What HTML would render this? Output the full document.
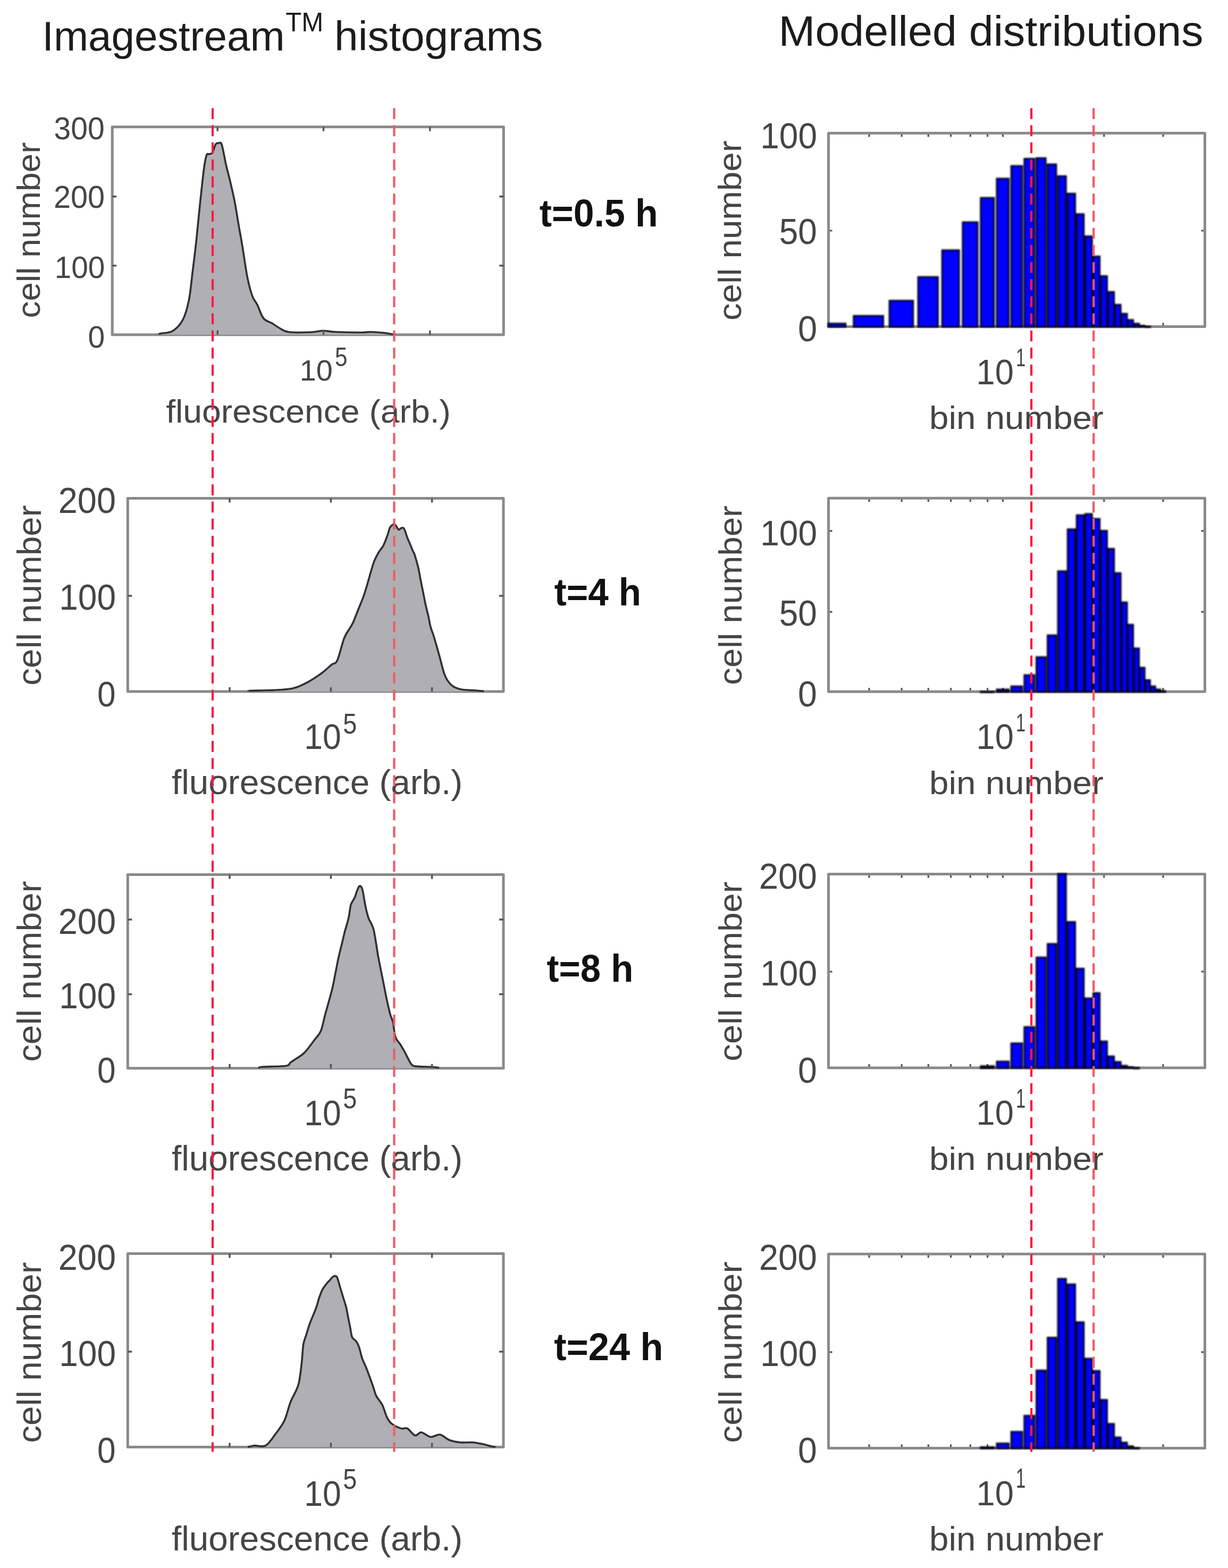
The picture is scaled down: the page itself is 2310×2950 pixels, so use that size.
<!DOCTYPE html>
<html><head><meta charset="utf-8"><title>Imagestream histograms vs modelled distributions</title>
<style>html,body{margin:0;padding:0;background:#fff;}svg{display:block;}
text{font-family:"Liberation Sans",Arial,sans-serif;}</style></head>
<body>
<svg width="2310" height="2950" viewBox="0 0 2310 2950">
<defs><filter id="bl" x="-2%" y="-2%" width="104%" height="104%"><feGaussianBlur stdDeviation="1.4"/></filter></defs>
<rect width="2310" height="2950" fill="#fff"/>
<text x="79.2" y="95.2" font-size="77.54" textLength="456.4" lengthAdjust="spacingAndGlyphs" fill="#1c1c1c">Imagestream</text>
<text x="537.2" y="58.9" font-size="50.58" textLength="71.1" lengthAdjust="spacingAndGlyphs" fill="#1c1c1c">TM</text>
<text x="629.1" y="94.7" font-size="78.07" textLength="392.4" lengthAdjust="spacingAndGlyphs" fill="#1c1c1c">histograms</text>
<text x="1464.6" y="85.8" font-size="80.14" textLength="799.0" lengthAdjust="spacingAndGlyphs" fill="#1c1c1c">Modelled distributions</text>
<text x="1014.8" y="425.6" font-size="71.59" textLength="222.9" lengthAdjust="spacingAndGlyphs" fill="#111" font-weight="bold">t=0.5 h</text>
<text x="1042.7" y="1138.6" font-size="72.97" textLength="163.4" lengthAdjust="spacingAndGlyphs" fill="#111" font-weight="bold">t=4 h</text>
<text x="1028.6" y="1846.5" font-size="72.83" textLength="162.8" lengthAdjust="spacingAndGlyphs" fill="#111" font-weight="bold">t=8 h</text>
<text x="1042.3" y="2559.0" font-size="72.83" textLength="205.2" lengthAdjust="spacingAndGlyphs" fill="#111" font-weight="bold">t=24 h</text>
<rect x="211.2" y="238.8" width="736.1" height="391.0" fill="none" stroke="#8a8a8a" stroke-width="5" stroke-linejoin="round"/>
<path d="M300.0,629.3 C300.2,629.0 297.3,628.6 301.4,627.5 C305.5,626.4 317.8,626.9 324.8,622.7 C331.8,618.5 338.5,611.8 343.6,602.2 C348.7,592.6 352.2,580.2 355.3,565.0 C358.4,549.8 360.0,529.8 362.3,511.0 C364.6,492.2 367.0,474.0 369.3,452.5 C371.6,431.0 374.0,404.2 376.4,382.0 C378.8,359.8 381.4,334.0 383.4,319.0 C385.4,304.0 386.7,296.8 388.5,292.0 C390.3,287.2 392.1,290.8 394.0,290.0 C395.9,289.2 397.9,290.1 399.8,287.0 C401.7,283.9 403.7,274.5 405.6,271.5 C407.6,268.5 409.6,268.8 411.5,269.0 C413.4,269.2 415.0,265.4 417.3,272.5 C419.6,279.6 422.9,300.3 425.5,311.5 C428.1,322.7 429.9,327.8 432.6,339.5 C435.3,351.2 439.2,367.5 441.9,381.5 C444.6,395.5 446.6,410.0 449.0,423.7 C451.4,437.4 453.3,447.1 456.0,463.5 C458.7,479.9 462.3,506.4 465.4,522.0 C468.5,537.6 471.6,548.4 474.7,557.0 C477.8,565.6 480.6,566.5 484.1,573.5 C487.6,580.5 491.1,593.2 495.8,599.0 C500.5,604.8 507.1,605.4 512.2,608.5 C517.3,611.6 521.1,614.8 526.2,617.5 C531.3,620.2 532.9,623.2 542.6,624.5 C552.3,625.8 573.5,625.4 584.4,625.0 C595.3,624.6 600.1,622.3 607.9,622.2 C615.7,622.1 619.3,624.0 631.3,624.5 C643.3,625.0 669.0,625.5 680.0,625.5 C691.0,625.5 690.3,624.4 697.0,624.5 C703.7,624.6 713.7,625.4 720.0,626.0 C726.3,626.6 731.2,627.7 735.0,628.2 C738.8,628.8 741.7,629.1 743.0,629.3 L743.0,629.8 L300.0,629.8 Z" fill="#b0afb4" stroke="none"/>
<path d="M300.0,629.3 C300.2,629.0 297.3,628.6 301.4,627.5 C305.5,626.4 317.8,626.9 324.8,622.7 C331.8,618.5 338.5,611.8 343.6,602.2 C348.7,592.6 352.2,580.2 355.3,565.0 C358.4,549.8 360.0,529.8 362.3,511.0 C364.6,492.2 367.0,474.0 369.3,452.5 C371.6,431.0 374.0,404.2 376.4,382.0 C378.8,359.8 381.4,334.0 383.4,319.0 C385.4,304.0 386.7,296.8 388.5,292.0 C390.3,287.2 392.1,290.8 394.0,290.0 C395.9,289.2 397.9,290.1 399.8,287.0 C401.7,283.9 403.7,274.5 405.6,271.5 C407.6,268.5 409.6,268.8 411.5,269.0 C413.4,269.2 415.0,265.4 417.3,272.5 C419.6,279.6 422.9,300.3 425.5,311.5 C428.1,322.7 429.9,327.8 432.6,339.5 C435.3,351.2 439.2,367.5 441.9,381.5 C444.6,395.5 446.6,410.0 449.0,423.7 C451.4,437.4 453.3,447.1 456.0,463.5 C458.7,479.9 462.3,506.4 465.4,522.0 C468.5,537.6 471.6,548.4 474.7,557.0 C477.8,565.6 480.6,566.5 484.1,573.5 C487.6,580.5 491.1,593.2 495.8,599.0 C500.5,604.8 507.1,605.4 512.2,608.5 C517.3,611.6 521.1,614.8 526.2,617.5 C531.3,620.2 532.9,623.2 542.6,624.5 C552.3,625.8 573.5,625.4 584.4,625.0 C595.3,624.6 600.1,622.3 607.9,622.2 C615.7,622.1 619.3,624.0 631.3,624.5 C643.3,625.0 669.0,625.5 680.0,625.5 C691.0,625.5 690.3,624.4 697.0,624.5 C703.7,624.6 713.7,625.4 720.0,626.0 C726.3,626.6 731.2,627.7 735.0,628.2 C738.8,628.8 741.7,629.1 743.0,629.3" fill="none" stroke="#303030" stroke-width="3.6" stroke-linejoin="round"/>
<path d="M409.2,238.8v8 M409.2,629.8v-8 M608.5,238.8v8 M608.5,629.8v-8 M808.8,238.8v8 M808.8,629.8v-8 M211.2,499.7h8 M947.3,499.7h-8 M211.2,369.7h8 M947.3,369.7h-8 " stroke="#555" stroke-width="3.5" fill="none"/>
<text x="101.5" y="262.4" font-size="59.00" textLength="95.1" lengthAdjust="spacingAndGlyphs" fill="#454545">300</text>
<text x="100.9" y="391.2" font-size="59.86" textLength="96.1" lengthAdjust="spacingAndGlyphs" fill="#454545">200</text>
<text x="102.7" y="522.9" font-size="57.57" textLength="94.6" lengthAdjust="spacingAndGlyphs" fill="#454545">100</text>
<text x="165.5" y="653.5" font-size="58.29" textLength="31.7" lengthAdjust="spacingAndGlyphs" fill="#454545">0</text>
<text x="563.7" y="716.0" font-size="56.00" textLength="62.0" lengthAdjust="spacingAndGlyphs" fill="#454545">10</text>
<text x="629.9" y="689.2" font-size="49.28" textLength="23.5" lengthAdjust="spacingAndGlyphs" fill="#454545">5</text>
<text x="312.2" y="795.0" font-size="61.79" textLength="535.8" lengthAdjust="spacingAndGlyphs" fill="#454545">fluorescence (arb.)</text>
<text x="75.2" y="598.6" font-size="60.97" textLength="331.1" lengthAdjust="spacingAndGlyphs" fill="#454545" transform="rotate(-90 75.2 598.6)">cell number</text>
<rect x="240.3" y="937.4" width="706.7" height="363.5" fill="none" stroke="#8a8a8a" stroke-width="5" stroke-linejoin="round"/>
<path d="M468.0,1300.4 C468.3,1300.2 464.7,1299.8 470.0,1299.5 C475.3,1299.2 490.6,1299.1 500.0,1298.8 C509.4,1298.5 517.5,1298.5 526.3,1297.8 C535.1,1297.1 543.9,1296.9 552.7,1294.5 C561.5,1292.1 570.2,1288.0 579.0,1283.3 C587.8,1278.6 597.9,1271.7 605.4,1266.2 C612.9,1260.7 619.0,1254.4 623.8,1250.4 C628.6,1246.4 630.4,1250.8 634.4,1242.4 C638.4,1234.1 643.5,1210.4 647.5,1200.3 C651.5,1190.2 655.2,1186.9 658.1,1181.8 C661.0,1176.7 662.1,1175.8 664.7,1169.9 C667.4,1164.0 670.9,1154.3 674.0,1146.5 C677.1,1138.7 680.6,1130.8 683.4,1123.0 C686.2,1115.2 688.5,1107.4 690.9,1099.6 C693.2,1091.8 695.3,1083.5 697.5,1076.2 C699.7,1068.9 701.4,1062.0 704.0,1055.6 C706.6,1049.2 710.3,1042.6 713.0,1038.0 C715.7,1033.4 718.2,1031.5 720.3,1027.9 C722.4,1024.3 723.9,1020.1 725.5,1016.2 C727.1,1012.3 728.4,1008.4 729.7,1004.5 C731.0,1000.6 732.1,995.5 733.4,992.8 C734.7,990.0 736.1,989.1 737.5,988.0 C738.9,986.9 740.5,985.9 741.8,986.2 C743.1,986.5 744.2,988.3 745.5,990.0 C746.8,991.7 748.4,995.8 749.8,996.5 C751.2,997.2 752.6,994.6 754.0,994.0 C755.4,993.4 757.0,992.2 758.2,992.8 C759.5,993.4 760.2,994.4 761.5,997.5 C762.8,1000.6 764.4,1006.8 766.2,1011.5 C768.0,1016.2 770.5,1021.3 772.3,1025.6 C774.1,1029.9 775.7,1034.3 777.0,1037.3 C778.3,1040.3 778.3,1038.5 779.9,1043.4 C781.5,1048.3 784.6,1059.0 786.5,1066.8 C788.4,1074.6 789.6,1082.5 791.1,1090.3 C792.6,1098.1 794.2,1105.9 795.8,1113.7 C797.4,1121.5 798.8,1129.3 800.5,1137.1 C802.2,1144.9 804.5,1153.5 806.1,1160.5 C807.7,1167.5 808.2,1173.1 809.9,1179.3 C811.6,1185.5 813.4,1188.5 816.2,1197.7 C819.0,1206.9 823.2,1222.2 826.7,1234.5 C830.2,1246.8 833.2,1262.2 837.2,1271.4 C841.2,1280.6 845.1,1285.6 850.4,1289.9 C855.7,1294.2 861.3,1295.8 868.8,1297.3 C876.3,1298.8 888.3,1298.5 895.2,1299.0 C902.1,1299.5 907.5,1300.2 910.0,1300.4 L910.0,1300.9 L468.0,1300.9 Z" fill="#b0afb4" stroke="none"/>
<path d="M468.0,1300.4 C468.3,1300.2 464.7,1299.8 470.0,1299.5 C475.3,1299.2 490.6,1299.1 500.0,1298.8 C509.4,1298.5 517.5,1298.5 526.3,1297.8 C535.1,1297.1 543.9,1296.9 552.7,1294.5 C561.5,1292.1 570.2,1288.0 579.0,1283.3 C587.8,1278.6 597.9,1271.7 605.4,1266.2 C612.9,1260.7 619.0,1254.4 623.8,1250.4 C628.6,1246.4 630.4,1250.8 634.4,1242.4 C638.4,1234.1 643.5,1210.4 647.5,1200.3 C651.5,1190.2 655.2,1186.9 658.1,1181.8 C661.0,1176.7 662.1,1175.8 664.7,1169.9 C667.4,1164.0 670.9,1154.3 674.0,1146.5 C677.1,1138.7 680.6,1130.8 683.4,1123.0 C686.2,1115.2 688.5,1107.4 690.9,1099.6 C693.2,1091.8 695.3,1083.5 697.5,1076.2 C699.7,1068.9 701.4,1062.0 704.0,1055.6 C706.6,1049.2 710.3,1042.6 713.0,1038.0 C715.7,1033.4 718.2,1031.5 720.3,1027.9 C722.4,1024.3 723.9,1020.1 725.5,1016.2 C727.1,1012.3 728.4,1008.4 729.7,1004.5 C731.0,1000.6 732.1,995.5 733.4,992.8 C734.7,990.0 736.1,989.1 737.5,988.0 C738.9,986.9 740.5,985.9 741.8,986.2 C743.1,986.5 744.2,988.3 745.5,990.0 C746.8,991.7 748.4,995.8 749.8,996.5 C751.2,997.2 752.6,994.6 754.0,994.0 C755.4,993.4 757.0,992.2 758.2,992.8 C759.5,993.4 760.2,994.4 761.5,997.5 C762.8,1000.6 764.4,1006.8 766.2,1011.5 C768.0,1016.2 770.5,1021.3 772.3,1025.6 C774.1,1029.9 775.7,1034.3 777.0,1037.3 C778.3,1040.3 778.3,1038.5 779.9,1043.4 C781.5,1048.3 784.6,1059.0 786.5,1066.8 C788.4,1074.6 789.6,1082.5 791.1,1090.3 C792.6,1098.1 794.2,1105.9 795.8,1113.7 C797.4,1121.5 798.8,1129.3 800.5,1137.1 C802.2,1144.9 804.5,1153.5 806.1,1160.5 C807.7,1167.5 808.2,1173.1 809.9,1179.3 C811.6,1185.5 813.4,1188.5 816.2,1197.7 C819.0,1206.9 823.2,1222.2 826.7,1234.5 C830.2,1246.8 833.2,1262.2 837.2,1271.4 C841.2,1280.6 845.1,1285.6 850.4,1289.9 C855.7,1294.2 861.3,1295.8 868.8,1297.3 C876.3,1298.8 888.3,1298.5 895.2,1299.0 C902.1,1299.5 907.5,1300.2 910.0,1300.4" fill="none" stroke="#303030" stroke-width="3.6" stroke-linejoin="round"/>
<path d="M432.0,937.4v8 M432.0,1300.9v-8 M622.4,937.4v8 M622.4,1300.9v-8 M812.6,937.4v8 M812.6,1300.9v-8 M240.3,1121.0h8 M947.0,1121.0h-8 " stroke="#555" stroke-width="3.5" fill="none"/>
<text x="109.8" y="964.8" font-size="67.86" textLength="108.2" lengthAdjust="spacingAndGlyphs" fill="#454545">200</text>
<text x="111.2" y="1147.3" font-size="67.71" textLength="106.8" lengthAdjust="spacingAndGlyphs" fill="#454545">100</text>
<text x="183.1" y="1328.9" font-size="66.29" textLength="34.6" lengthAdjust="spacingAndGlyphs" fill="#454545">0</text>
<text x="572.2" y="1409.4" font-size="67.43" textLength="69.6" lengthAdjust="spacingAndGlyphs" fill="#454545">10</text>
<text x="645.3" y="1379.6" font-size="52.75" textLength="26.0" lengthAdjust="spacingAndGlyphs" fill="#454545">5</text>
<text x="323.0" y="1493.7" font-size="64.97" textLength="547.2" lengthAdjust="spacingAndGlyphs" fill="#454545">fluorescence (arb.)</text>
<text x="76.7" y="1289.7" font-size="62.07" textLength="339.4" lengthAdjust="spacingAndGlyphs" fill="#454545" transform="rotate(-90 76.7 1289.7)">cell number</text>
<rect x="240.3" y="1645.5" width="706.7" height="364.3" fill="none" stroke="#8a8a8a" stroke-width="5" stroke-linejoin="round"/>
<path d="M486.0,2009.2 C487.2,2008.9 484.8,2007.9 493.4,2007.2 C502.0,2006.5 528.9,2006.8 537.9,2005.3 C546.9,2003.8 542.2,2001.7 547.3,1998.2 C552.4,1994.7 563.3,1988.1 568.4,1984.2 C573.5,1980.3 573.8,1979.5 577.7,1974.8 C581.6,1970.1 587.5,1961.9 591.8,1956.1 C596.1,1950.2 600.2,1947.5 603.5,1939.7 C606.8,1931.9 609.1,1918.3 611.5,1909.3 C613.9,1900.3 615.8,1894.4 618.1,1885.8 C620.5,1877.2 623.4,1867.1 625.6,1857.7 C627.8,1848.3 629.3,1839.0 631.2,1829.6 C633.1,1820.2 634.9,1810.1 636.8,1801.5 C638.7,1792.9 640.7,1785.6 642.5,1778.1 C644.3,1770.6 646.4,1761.6 647.6,1756.6 C648.8,1751.5 648.9,1751.2 649.9,1747.8 C650.9,1744.4 652.3,1740.0 653.4,1736.1 C654.5,1732.2 655.5,1728.3 656.3,1724.4 C657.1,1720.5 657.5,1716.4 658.1,1712.7 C658.7,1709.0 659.1,1704.9 659.9,1702.2 C660.7,1699.5 661.5,1698.7 662.8,1696.3 C664.1,1693.9 666.1,1691.2 667.5,1688.1 C668.9,1685.0 669.6,1681.0 671.0,1677.6 C672.4,1674.2 674.2,1669.1 675.7,1667.6 C677.2,1666.1 678.6,1667.1 679.8,1668.8 C681.0,1670.5 681.7,1673.2 682.7,1677.6 C683.7,1682.0 684.6,1689.7 685.6,1695.1 C686.6,1700.5 687.5,1705.4 688.5,1709.8 C689.5,1714.2 690.5,1718.1 691.5,1721.5 C692.5,1724.9 693.1,1727.4 694.4,1730.3 C695.7,1733.2 697.6,1735.6 699.1,1739.0 C700.6,1742.4 701.7,1744.2 703.2,1750.7 C704.7,1757.2 706.6,1769.6 708.0,1778.1 C709.4,1786.6 710.2,1792.9 711.8,1801.5 C713.4,1810.1 715.5,1820.2 717.4,1829.6 C719.3,1839.0 721.3,1849.1 723.0,1857.7 C724.7,1866.3 725.8,1872.5 727.7,1881.1 C729.6,1889.7 732.4,1902.3 734.3,1909.3 C736.2,1916.3 737.7,1916.3 739.3,1923.3 C740.9,1930.3 741.6,1944.4 744.0,1951.4 C746.4,1958.4 750.3,1960.4 753.4,1965.5 C756.5,1970.6 759.2,1975.6 762.7,1981.8 C766.2,1988.0 770.5,1998.8 774.4,2002.9 C778.3,2007.0 780.3,2005.7 786.2,2006.4 C792.1,2007.1 803.8,2006.9 809.6,2007.2 C815.5,2007.5 818.6,2008.0 821.3,2008.3 C824.0,2008.6 825.2,2009.0 826.0,2009.2 L826.0,2009.8 L486.0,2009.8 Z" fill="#b0afb4" stroke="none"/>
<path d="M486.0,2009.2 C487.2,2008.9 484.8,2007.9 493.4,2007.2 C502.0,2006.5 528.9,2006.8 537.9,2005.3 C546.9,2003.8 542.2,2001.7 547.3,1998.2 C552.4,1994.7 563.3,1988.1 568.4,1984.2 C573.5,1980.3 573.8,1979.5 577.7,1974.8 C581.6,1970.1 587.5,1961.9 591.8,1956.1 C596.1,1950.2 600.2,1947.5 603.5,1939.7 C606.8,1931.9 609.1,1918.3 611.5,1909.3 C613.9,1900.3 615.8,1894.4 618.1,1885.8 C620.5,1877.2 623.4,1867.1 625.6,1857.7 C627.8,1848.3 629.3,1839.0 631.2,1829.6 C633.1,1820.2 634.9,1810.1 636.8,1801.5 C638.7,1792.9 640.7,1785.6 642.5,1778.1 C644.3,1770.6 646.4,1761.6 647.6,1756.6 C648.8,1751.5 648.9,1751.2 649.9,1747.8 C650.9,1744.4 652.3,1740.0 653.4,1736.1 C654.5,1732.2 655.5,1728.3 656.3,1724.4 C657.1,1720.5 657.5,1716.4 658.1,1712.7 C658.7,1709.0 659.1,1704.9 659.9,1702.2 C660.7,1699.5 661.5,1698.7 662.8,1696.3 C664.1,1693.9 666.1,1691.2 667.5,1688.1 C668.9,1685.0 669.6,1681.0 671.0,1677.6 C672.4,1674.2 674.2,1669.1 675.7,1667.6 C677.2,1666.1 678.6,1667.1 679.8,1668.8 C681.0,1670.5 681.7,1673.2 682.7,1677.6 C683.7,1682.0 684.6,1689.7 685.6,1695.1 C686.6,1700.5 687.5,1705.4 688.5,1709.8 C689.5,1714.2 690.5,1718.1 691.5,1721.5 C692.5,1724.9 693.1,1727.4 694.4,1730.3 C695.7,1733.2 697.6,1735.6 699.1,1739.0 C700.6,1742.4 701.7,1744.2 703.2,1750.7 C704.7,1757.2 706.6,1769.6 708.0,1778.1 C709.4,1786.6 710.2,1792.9 711.8,1801.5 C713.4,1810.1 715.5,1820.2 717.4,1829.6 C719.3,1839.0 721.3,1849.1 723.0,1857.7 C724.7,1866.3 725.8,1872.5 727.7,1881.1 C729.6,1889.7 732.4,1902.3 734.3,1909.3 C736.2,1916.3 737.7,1916.3 739.3,1923.3 C740.9,1930.3 741.6,1944.4 744.0,1951.4 C746.4,1958.4 750.3,1960.4 753.4,1965.5 C756.5,1970.6 759.2,1975.6 762.7,1981.8 C766.2,1988.0 770.5,1998.8 774.4,2002.9 C778.3,2007.0 780.3,2005.7 786.2,2006.4 C792.1,2007.1 803.8,2006.9 809.6,2007.2 C815.5,2007.5 818.6,2008.0 821.3,2008.3 C824.0,2008.6 825.2,2009.0 826.0,2009.2" fill="none" stroke="#303030" stroke-width="3.6" stroke-linejoin="round"/>
<path d="M432.0,1645.5v8 M432.0,2009.8v-8 M622.4,1645.5v8 M622.4,2009.8v-8 M812.6,1645.5v8 M812.6,2009.8v-8 M240.3,1870.4h8 M947.0,1870.4h-8 M240.3,1730.0h8 M947.0,1730.0h-8 " stroke="#555" stroke-width="3.5" fill="none"/>
<text x="109.8" y="1756.6" font-size="69.29" textLength="108.2" lengthAdjust="spacingAndGlyphs" fill="#454545">200</text>
<text x="111.2" y="1896.8" font-size="69.29" textLength="106.8" lengthAdjust="spacingAndGlyphs" fill="#454545">100</text>
<text x="183.1" y="2037.0" font-size="69.29" textLength="34.6" lengthAdjust="spacingAndGlyphs" fill="#454545">0</text>
<text x="572.2" y="2116.5" font-size="67.43" textLength="69.6" lengthAdjust="spacingAndGlyphs" fill="#454545">10</text>
<text x="645.3" y="2084.9" font-size="53.19" textLength="26.0" lengthAdjust="spacingAndGlyphs" fill="#454545">5</text>
<text x="323.0" y="2201.5" font-size="66.07" textLength="547.2" lengthAdjust="spacingAndGlyphs" fill="#454545">fluorescence (arb.)</text>
<text x="76.7" y="1997.8" font-size="62.07" textLength="340.4" lengthAdjust="spacingAndGlyphs" fill="#454545" transform="rotate(-90 76.7 1997.8)">cell number</text>
<rect x="240.3" y="2358.5" width="706.7" height="364.0" fill="none" stroke="#8a8a8a" stroke-width="5" stroke-linejoin="round"/>
<path d="M466.0,2722.0 C467.2,2721.8 471.2,2721.2 473.4,2720.8 C475.6,2720.4 474.9,2719.8 479.3,2719.6 C483.7,2719.4 493.5,2723.0 499.8,2719.6 C506.1,2716.2 511.4,2706.9 517.3,2699.1 C523.1,2691.3 530.0,2682.9 534.9,2672.7 C539.8,2662.4 542.2,2648.8 546.6,2637.6 C551.0,2626.4 557.8,2617.1 561.2,2605.4 C564.6,2593.7 565.5,2580.0 567.1,2567.4 C568.7,2554.8 569.1,2539.3 570.6,2529.9 C572.1,2520.5 574.3,2517.3 576.2,2511.1 C578.1,2504.8 580.0,2497.8 581.9,2492.4 C583.8,2487.0 585.3,2483.9 587.5,2478.4 C589.7,2472.9 592.8,2465.8 595.0,2459.6 C597.2,2453.3 598.7,2446.4 600.6,2440.9 C602.5,2435.4 603.9,2431.2 606.2,2426.8 C608.5,2422.4 612.3,2417.7 614.6,2414.7 C616.9,2411.7 618.3,2410.9 620.0,2409.0 C621.7,2407.1 623.4,2404.4 625.0,2403.0 C626.6,2401.6 628.1,2400.5 629.6,2400.6 C631.1,2400.7 632.6,2399.8 634.3,2403.4 C636.0,2407.0 638.0,2415.9 639.9,2422.2 C641.8,2428.4 643.7,2434.7 645.6,2440.9 C647.5,2447.1 649.7,2453.3 651.2,2459.6 C652.8,2465.8 653.6,2472.2 654.9,2478.4 C656.1,2484.7 657.5,2490.9 658.7,2497.1 C660.0,2503.3 660.5,2511.4 662.4,2515.8 C664.3,2520.2 667.7,2520.2 669.9,2523.3 C672.1,2526.4 673.6,2529.2 675.5,2534.6 C677.4,2540.0 678.9,2548.7 681.3,2555.6 C683.7,2562.5 686.6,2567.3 690.0,2576.1 C693.4,2584.9 698.9,2600.0 701.8,2608.3 C704.7,2616.6 704.7,2620.0 707.6,2625.9 C710.5,2631.8 715.9,2636.7 719.3,2643.5 C722.7,2650.3 725.2,2661.1 728.1,2666.9 C731.0,2672.8 732.5,2675.2 736.9,2678.6 C741.3,2682.0 749.5,2685.9 754.4,2687.4 C759.3,2688.9 761.8,2685.2 766.2,2687.4 C770.6,2689.6 776.4,2699.4 780.8,2700.6 C785.2,2701.8 787.6,2694.2 792.5,2694.7 C797.4,2695.2 804.2,2702.8 810.1,2703.5 C816.0,2704.2 821.8,2698.1 827.6,2699.1 C833.5,2700.1 838.9,2706.9 845.2,2709.3 C851.6,2711.7 858.4,2713.0 865.7,2713.7 C873.0,2714.4 882.3,2713.2 889.1,2713.7 C895.9,2714.2 900.9,2715.4 906.7,2716.6 C912.6,2717.8 920.0,2720.1 924.2,2721.0 C928.4,2721.9 930.7,2721.8 932.0,2722.0 L932.0,2722.5 L466.0,2722.5 Z" fill="#b0afb4" stroke="none"/>
<path d="M466.0,2722.0 C467.2,2721.8 471.2,2721.2 473.4,2720.8 C475.6,2720.4 474.9,2719.8 479.3,2719.6 C483.7,2719.4 493.5,2723.0 499.8,2719.6 C506.1,2716.2 511.4,2706.9 517.3,2699.1 C523.1,2691.3 530.0,2682.9 534.9,2672.7 C539.8,2662.4 542.2,2648.8 546.6,2637.6 C551.0,2626.4 557.8,2617.1 561.2,2605.4 C564.6,2593.7 565.5,2580.0 567.1,2567.4 C568.7,2554.8 569.1,2539.3 570.6,2529.9 C572.1,2520.5 574.3,2517.3 576.2,2511.1 C578.1,2504.8 580.0,2497.8 581.9,2492.4 C583.8,2487.0 585.3,2483.9 587.5,2478.4 C589.7,2472.9 592.8,2465.8 595.0,2459.6 C597.2,2453.3 598.7,2446.4 600.6,2440.9 C602.5,2435.4 603.9,2431.2 606.2,2426.8 C608.5,2422.4 612.3,2417.7 614.6,2414.7 C616.9,2411.7 618.3,2410.9 620.0,2409.0 C621.7,2407.1 623.4,2404.4 625.0,2403.0 C626.6,2401.6 628.1,2400.5 629.6,2400.6 C631.1,2400.7 632.6,2399.8 634.3,2403.4 C636.0,2407.0 638.0,2415.9 639.9,2422.2 C641.8,2428.4 643.7,2434.7 645.6,2440.9 C647.5,2447.1 649.7,2453.3 651.2,2459.6 C652.8,2465.8 653.6,2472.2 654.9,2478.4 C656.1,2484.7 657.5,2490.9 658.7,2497.1 C660.0,2503.3 660.5,2511.4 662.4,2515.8 C664.3,2520.2 667.7,2520.2 669.9,2523.3 C672.1,2526.4 673.6,2529.2 675.5,2534.6 C677.4,2540.0 678.9,2548.7 681.3,2555.6 C683.7,2562.5 686.6,2567.3 690.0,2576.1 C693.4,2584.9 698.9,2600.0 701.8,2608.3 C704.7,2616.6 704.7,2620.0 707.6,2625.9 C710.5,2631.8 715.9,2636.7 719.3,2643.5 C722.7,2650.3 725.2,2661.1 728.1,2666.9 C731.0,2672.8 732.5,2675.2 736.9,2678.6 C741.3,2682.0 749.5,2685.9 754.4,2687.4 C759.3,2688.9 761.8,2685.2 766.2,2687.4 C770.6,2689.6 776.4,2699.4 780.8,2700.6 C785.2,2701.8 787.6,2694.2 792.5,2694.7 C797.4,2695.2 804.2,2702.8 810.1,2703.5 C816.0,2704.2 821.8,2698.1 827.6,2699.1 C833.5,2700.1 838.9,2706.9 845.2,2709.3 C851.6,2711.7 858.4,2713.0 865.7,2713.7 C873.0,2714.4 882.3,2713.2 889.1,2713.7 C895.9,2714.2 900.9,2715.4 906.7,2716.6 C912.6,2717.8 920.0,2720.1 924.2,2721.0 C928.4,2721.9 930.7,2721.8 932.0,2722.0" fill="none" stroke="#303030" stroke-width="3.6" stroke-linejoin="round"/>
<path d="M432.0,2358.5v8 M432.0,2722.5v-8 M622.4,2358.5v8 M622.4,2722.5v-8 M812.6,2358.5v8 M812.6,2722.5v-8 M240.3,2543.0h8 M947.0,2543.0h-8 " stroke="#555" stroke-width="3.5" fill="none"/>
<text x="109.8" y="2388.8" font-size="69.14" textLength="108.2" lengthAdjust="spacingAndGlyphs" fill="#454545">200</text>
<text x="111.2" y="2570.4" font-size="69.29" textLength="106.8" lengthAdjust="spacingAndGlyphs" fill="#454545">100</text>
<text x="183.1" y="2751.9" font-size="69.14" textLength="34.6" lengthAdjust="spacingAndGlyphs" fill="#454545">0</text>
<text x="572.2" y="2833.0" font-size="67.43" textLength="69.6" lengthAdjust="spacingAndGlyphs" fill="#454545">10</text>
<text x="645.3" y="2801.3" font-size="53.04" textLength="26.0" lengthAdjust="spacingAndGlyphs" fill="#454545">5</text>
<text x="323.0" y="2917.2" font-size="64.97" textLength="547.2" lengthAdjust="spacingAndGlyphs" fill="#454545">fluorescence (arb.)</text>
<text x="76.7" y="2714.8" font-size="62.07" textLength="340.4" lengthAdjust="spacingAndGlyphs" fill="#454545" transform="rotate(-90 76.7 2714.8)">cell number</text>
<path d="M1635.0,250.5v7 M1635.0,614.4v-7 M1696.2,250.5v7 M1696.2,614.4v-7 M1746.3,250.5v7 M1746.3,614.4v-7 M1788.6,250.5v7 M1788.6,614.4v-7 M1825.3,250.5v7 M1825.3,614.4v-7 M1857.6,250.5v7 M1857.6,614.4v-7 M1886.5,250.5v7 M1886.5,614.4v-7 M2076.8,250.5v7 M2076.8,614.4v-7 M2188.0,250.5v7 M2188.0,614.4v-7 M1558.5,434.0h7 M2266.5,434.0h-7 " stroke="#555" stroke-width="3.2" fill="none"/>
<rect x="1558.5" y="250.5" width="708.0" height="363.9" fill="none" stroke="#8a8a8a" stroke-width="5" stroke-linejoin="round"/>
<g fill="#0000ff" stroke="#000018" stroke-width="3.6" filter="url(#bl)"><rect x="1558.5" y="609.0" width="31.9" height="5.4"/><rect x="1606.1" y="594.5" width="55.1" height="19.9"/><rect x="1673.4" y="565.9" width="44.0" height="48.5"/><rect x="1727.4" y="521.4" width="36.7" height="93.0"/><rect x="1772.5" y="471.0" width="31.4" height="143.4"/><rect x="1811.2" y="418.3" width="27.5" height="196.1"/><rect x="1845.1" y="372.5" width="24.4" height="241.9"/><rect x="1875.3" y="336.3" width="22.0" height="278.1"/><rect x="1902.5" y="312.5" width="20.0" height="301.9"/><rect x="1927.2" y="298.9" width="18.3" height="315.5"/><rect x="1949.9" y="297.7" width="16.9" height="316.7"/><rect x="1970.9" y="309.4" width="15.7" height="305.0"/><rect x="1990.4" y="331.7" width="14.6" height="282.7"/><rect x="2008.6" y="364.5" width="13.7" height="249.9"/><rect x="2025.6" y="403.1" width="12.9" height="211.3"/><rect x="2041.7" y="444.8" width="12.2" height="169.6"/><rect x="2056.8" y="482.7" width="11.6" height="131.7"/><rect x="2071.2" y="519.7" width="11.0" height="94.7"/><rect x="2084.9" y="549.5" width="10.5" height="64.9"/><rect x="2097.9" y="573.6" width="10.0" height="40.8"/><rect x="2110.3" y="590.5" width="9.5" height="23.9"/><rect x="2122.2" y="602.2" width="9.1" height="12.2"/><rect x="2133.6" y="609.2" width="8.8" height="5.2"/><rect x="2144.5" y="613.0" width="8.4" height="1.4"/><rect x="2155.0" y="614.7" width="8.1" height="0.3"/></g>
<text x="1430.2" y="278.9" font-size="67.71" textLength="106.8" lengthAdjust="spacingAndGlyphs" fill="#454545">100</text>
<text x="1465.7" y="459.4" font-size="67.71" textLength="71.1" lengthAdjust="spacingAndGlyphs" fill="#454545">50</text>
<text x="1501.0" y="642.4" font-size="69.43" textLength="36.2" lengthAdjust="spacingAndGlyphs" fill="#454545">0</text>
<text x="1836.6" y="722.6" font-size="67.00" textLength="70.4" lengthAdjust="spacingAndGlyphs" fill="#454545">10</text>
<text x="1911.1" y="689.2" font-size="48.55" textLength="18.3" lengthAdjust="spacingAndGlyphs" fill="#454545">1</text>
<text x="1748.0" y="807.2" font-size="61.79" textLength="327.9" lengthAdjust="spacingAndGlyphs" fill="#454545">bin number</text>
<text x="1393.7" y="602.9" font-size="61.24" textLength="338.4" lengthAdjust="spacingAndGlyphs" fill="#454545" transform="rotate(-90 1393.7 602.9)">cell number</text>
<path d="M1635.0,937.3v7 M1635.0,1301.3v-7 M1696.2,937.3v7 M1696.2,1301.3v-7 M1746.3,937.3v7 M1746.3,1301.3v-7 M1788.6,937.3v7 M1788.6,1301.3v-7 M1825.3,937.3v7 M1825.3,1301.3v-7 M1857.6,937.3v7 M1857.6,1301.3v-7 M1886.5,937.3v7 M1886.5,1301.3v-7 M2076.8,937.3v7 M2076.8,1301.3v-7 M2188.0,937.3v7 M2188.0,1301.3v-7 M1558.5,1151.2h7 M2266.5,1151.2h-7 M1558.5,998.9h7 M2266.5,998.9h-7 " stroke="#555" stroke-width="3.2" fill="none"/>
<rect x="1558.5" y="937.3" width="708.0" height="364.0" fill="none" stroke="#8a8a8a" stroke-width="5" stroke-linejoin="round"/>
<g fill="#0000ff" stroke="#000018" stroke-width="3.6" filter="url(#bl)"><rect x="1845.1" y="1301.7" width="24.4" height="0.3"/><rect x="1875.3" y="1297.4" width="22.0" height="3.9"/><rect x="1902.5" y="1291.5" width="20.0" height="9.8"/><rect x="1927.2" y="1270.4" width="18.3" height="30.9"/><rect x="1949.9" y="1236.5" width="16.9" height="64.8"/><rect x="1970.9" y="1195.5" width="15.7" height="105.8"/><rect x="1990.4" y="1074.9" width="14.6" height="226.4"/><rect x="2008.6" y="996.0" width="13.7" height="305.3"/><rect x="2025.6" y="969.5" width="12.9" height="331.8"/><rect x="2041.7" y="967.2" width="12.2" height="334.1"/><rect x="2056.8" y="976.5" width="11.6" height="324.8"/><rect x="2071.2" y="998.8" width="11.0" height="302.5"/><rect x="2084.9" y="1032.7" width="10.5" height="268.6"/><rect x="2097.9" y="1078.4" width="10.0" height="222.9"/><rect x="2110.3" y="1133.5" width="9.5" height="167.8"/><rect x="2122.2" y="1175.5" width="9.1" height="125.8"/><rect x="2133.6" y="1220.1" width="8.8" height="81.2"/><rect x="2144.5" y="1256.4" width="8.4" height="44.9"/><rect x="2155.0" y="1279.8" width="8.1" height="21.5"/><rect x="2165.2" y="1291.5" width="7.8" height="9.8"/><rect x="2174.9" y="1297.4" width="7.6" height="3.9"/><rect x="2184.4" y="1300.5" width="7.3" height="0.8"/></g>
<text x="1430.2" y="1026.3" font-size="66.29" textLength="106.8" lengthAdjust="spacingAndGlyphs" fill="#454545">100</text>
<text x="1465.7" y="1176.6" font-size="67.71" textLength="71.1" lengthAdjust="spacingAndGlyphs" fill="#454545">50</text>
<text x="1501.0" y="1328.9" font-size="67.71" textLength="35.8" lengthAdjust="spacingAndGlyphs" fill="#454545">0</text>
<text x="1836.6" y="1409.3" font-size="67.14" textLength="70.4" lengthAdjust="spacingAndGlyphs" fill="#454545">10</text>
<text x="1911.1" y="1375.9" font-size="48.70" textLength="18.3" lengthAdjust="spacingAndGlyphs" fill="#454545">1</text>
<text x="1748.0" y="1493.8" font-size="61.66" textLength="327.9" lengthAdjust="spacingAndGlyphs" fill="#454545">bin number</text>
<text x="1394.7" y="1288.7" font-size="61.38" textLength="337.4" lengthAdjust="spacingAndGlyphs" fill="#454545" transform="rotate(-90 1394.7 1288.7)">cell number</text>
<path d="M1635.0,1644.5v7 M1635.0,2009.0v-7 M1696.2,1644.5v7 M1696.2,2009.0v-7 M1746.3,1644.5v7 M1746.3,2009.0v-7 M1788.6,1644.5v7 M1788.6,2009.0v-7 M1825.3,1644.5v7 M1825.3,2009.0v-7 M1857.6,1644.5v7 M1857.6,2009.0v-7 M1886.5,1644.5v7 M1886.5,2009.0v-7 M2076.8,1644.5v7 M2076.8,2009.0v-7 M2188.0,1644.5v7 M2188.0,2009.0v-7 M1558.5,1828.0h7 M2266.5,1828.0h-7 " stroke="#555" stroke-width="3.2" fill="none"/>
<rect x="1558.5" y="1644.5" width="708.0" height="364.5" fill="none" stroke="#8a8a8a" stroke-width="5" stroke-linejoin="round"/>
<g fill="#0000ff" stroke="#000018" stroke-width="3.6" filter="url(#bl)"><rect x="1845.1" y="2006.1" width="24.4" height="2.9"/><rect x="1875.3" y="1997.4" width="22.0" height="11.6"/><rect x="1902.5" y="1963.1" width="20.0" height="45.9"/><rect x="1927.2" y="1932.4" width="18.3" height="76.6"/><rect x="1949.9" y="1801.5" width="16.9" height="207.5"/><rect x="1970.9" y="1776.1" width="15.7" height="232.9"/><rect x="1990.4" y="1644.5" width="14.6" height="364.5"/><rect x="2008.6" y="1734.8" width="13.7" height="274.2"/><rect x="2025.6" y="1822.6" width="12.9" height="186.4"/><rect x="2041.7" y="1878.5" width="12.2" height="130.5"/><rect x="2056.8" y="1868.5" width="11.6" height="140.5"/><rect x="2071.2" y="1959.5" width="11.0" height="49.5"/><rect x="2084.9" y="1987.7" width="10.5" height="21.3"/><rect x="2097.9" y="1998.2" width="10.0" height="10.8"/><rect x="2110.3" y="2005.3" width="9.5" height="3.7"/><rect x="2122.2" y="2008.0" width="9.1" height="1.0"/><rect x="2133.6" y="2009.5" width="8.8" height="0.3"/></g>
<text x="1427.7" y="1671.8" font-size="67.71" textLength="109.3" lengthAdjust="spacingAndGlyphs" fill="#454545">200</text>
<text x="1430.2" y="1854.4" font-size="66.29" textLength="106.8" lengthAdjust="spacingAndGlyphs" fill="#454545">100</text>
<text x="1501.0" y="2037.0" font-size="67.86" textLength="35.8" lengthAdjust="spacingAndGlyphs" fill="#454545">0</text>
<text x="1836.6" y="2116.0" font-size="65.57" textLength="70.4" lengthAdjust="spacingAndGlyphs" fill="#454545">10</text>
<text x="1911.1" y="2083.7" font-size="50.29" textLength="18.3" lengthAdjust="spacingAndGlyphs" fill="#454545">1</text>
<text x="1748.0" y="2200.5" font-size="61.66" textLength="327.9" lengthAdjust="spacingAndGlyphs" fill="#454545">bin number</text>
<text x="1394.7" y="1996.8" font-size="61.38" textLength="338.4" lengthAdjust="spacingAndGlyphs" fill="#454545" transform="rotate(-90 1394.7 1996.8)">cell number</text>
<path d="M1635.0,2359.3v7 M1635.0,2724.5v-7 M1696.2,2359.3v7 M1696.2,2724.5v-7 M1746.3,2359.3v7 M1746.3,2724.5v-7 M1788.6,2359.3v7 M1788.6,2724.5v-7 M1825.3,2359.3v7 M1825.3,2724.5v-7 M1857.6,2359.3v7 M1857.6,2724.5v-7 M1886.5,2359.3v7 M1886.5,2724.5v-7 M2076.8,2359.3v7 M2076.8,2724.5v-7 M2188.0,2359.3v7 M2188.0,2724.5v-7 M1558.5,2543.9h7 M2266.5,2543.9h-7 " stroke="#555" stroke-width="3.2" fill="none"/>
<rect x="1558.5" y="2359.3" width="708.0" height="365.2" fill="none" stroke="#8a8a8a" stroke-width="5" stroke-linejoin="round"/>
<g fill="#0000ff" stroke="#000018" stroke-width="3.6" filter="url(#bl)"><rect x="1845.1" y="2723.0" width="24.4" height="1.5"/><rect x="1875.3" y="2715.9" width="22.0" height="8.6"/><rect x="1902.5" y="2694.0" width="20.0" height="30.5"/><rect x="1927.2" y="2663.7" width="18.3" height="60.8"/><rect x="1949.9" y="2578.5" width="16.9" height="146.0"/><rect x="1970.9" y="2516.8" width="15.7" height="207.7"/><rect x="1990.4" y="2406.1" width="14.6" height="318.4"/><rect x="2008.6" y="2416.6" width="13.7" height="307.9"/><rect x="2025.6" y="2487.8" width="12.9" height="236.7"/><rect x="2041.7" y="2556.3" width="12.2" height="168.2"/><rect x="2056.8" y="2579.5" width="11.6" height="145.0"/><rect x="2071.2" y="2633.9" width="11.0" height="90.6"/><rect x="2084.9" y="2679.1" width="10.5" height="45.4"/><rect x="2097.9" y="2704.5" width="10.0" height="20.0"/><rect x="2110.3" y="2714.2" width="9.5" height="10.3"/><rect x="2122.2" y="2721.2" width="9.1" height="3.3"/><rect x="2133.6" y="2724.5" width="8.8" height="0.3"/></g>
<text x="1427.7" y="2388.8" font-size="69.14" textLength="109.3" lengthAdjust="spacingAndGlyphs" fill="#454545">200</text>
<text x="1430.2" y="2570.4" font-size="69.29" textLength="106.8" lengthAdjust="spacingAndGlyphs" fill="#454545">100</text>
<text x="1501.0" y="2751.9" font-size="69.14" textLength="35.8" lengthAdjust="spacingAndGlyphs" fill="#454545">0</text>
<text x="1836.6" y="2831.5" font-size="65.43" textLength="70.4" lengthAdjust="spacingAndGlyphs" fill="#454545">10</text>
<text x="1911.1" y="2799.2" font-size="51.88" textLength="18.3" lengthAdjust="spacingAndGlyphs" fill="#454545">1</text>
<text x="1748.0" y="2917.2" font-size="63.31" textLength="327.9" lengthAdjust="spacingAndGlyphs" fill="#454545">bin number</text>
<text x="1394.7" y="2714.8" font-size="61.38" textLength="341.4" lengthAdjust="spacingAndGlyphs" fill="#454545" transform="rotate(-90 1394.7 2714.8)">cell number</text>
<line x1="400" y1="203.4" x2="400" y2="2731.6" stroke="#f81c44" stroke-width="4.2" stroke-dasharray="20.6 11.58"/>
<line x1="741.5" y1="203.4" x2="741.5" y2="2731.6" stroke="#f25a66" stroke-width="4.2" stroke-dasharray="20.6 11.58"/>
<line x1="1940.1" y1="203.4" x2="1940.1" y2="2731.6" stroke="#f81c44" stroke-width="4.2" stroke-dasharray="20.6 11.58"/>
<line x1="2057.2" y1="203.4" x2="2057.2" y2="2731.6" stroke="#f25a66" stroke-width="4.2" stroke-dasharray="20.6 11.58"/>
</svg>
</body></html>
